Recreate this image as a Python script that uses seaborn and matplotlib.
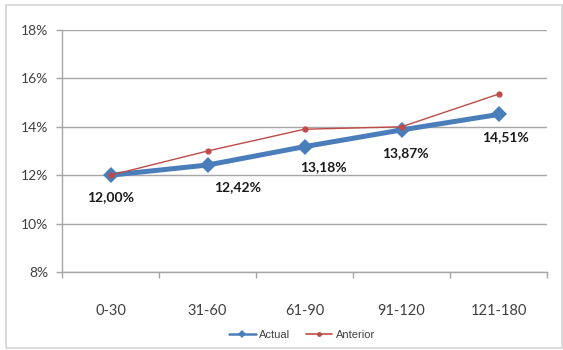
import matplotlib
matplotlib.use("Agg")
import matplotlib.pyplot as plt
from matplotlib.lines import Line2D
from matplotlib.patches import Rectangle
from matplotlib.ticker import FuncFormatter
import pandas as pd
import seaborn as sns

# Tramos de plazo (días) y tasas por serie
categories = ["0-30", "31-60", "61-90", "91-120", "121-180"]
actual = [12.00, 12.42, 13.18, 13.87, 14.51]
anterior = [12.00, 13.00, 13.90, 14.00, 15.35]
y_ticks = [8, 10, 12, 14, 16, 18]

df = pd.DataFrame({
    "tramo": categories * 2,
    "tasa": actual + anterior,
    "serie": ["Actual"] * len(categories) + ["Anterior"] * len(categories),
})
df["tramo"] = pd.Categorical(df["tramo"], categories=categories, ordered=True)
df["pos"] = df["tramo"].cat.codes

sns.set_theme(style="white")
plt.rcParams["font.family"] = ["Lato", "DejaVu Sans"]

BLUE = "#4a7ebb"
RED = "#be4b48"
GRID = "#a6a6a6"
TEXT = "#404040"

fig = plt.figure(figsize=(5.63, 3.5), dpi=100)
ax = fig.add_axes([62 / 563, 1 - 272 / 350, (547 - 62) / 563, (272 - 30) / 350])

# Marco exterior del gráfico
fig.patches.append(Rectangle((6 / 563, 2 / 350), 556 / 563, 343 / 350,
                             transform=fig.transFigure, fill=False,
                             edgecolor="#d4d4d4", linewidth=1.2))

sns.lineplot(data=df[df["serie"] == "Actual"], x="pos", y="tasa", ax=ax,
             color=BLUE, linewidth=3.6, marker="D", markersize=8.5,
             markeredgewidth=0, legend=False, zorder=3)
sns.lineplot(data=df[df["serie"] == "Anterior"], x="pos", y="tasa", ax=ax,
             color=RED, linewidth=1.0, marker="o", markersize=4.5,
             markeredgewidth=0, legend=False, zorder=4)

# Etiquetas de valor de la serie actual
label_offsets = [(0, -22), (30, -22), (19, -20), (4, -23), (7, -23)]
for i, (v, (dx, dy)) in enumerate(zip(actual, label_offsets)):
    ax.annotate(f"{v:.2f}%".replace(".", ","), (i, v), xytext=(dx, dy),
                textcoords="offset pixels", ha="center", va="center",
                fontsize=10, fontweight="bold", color="#1a1a1a")

ax.set_xlim(-0.5, len(categories) - 0.5)
ax.set_ylim(y_ticks[0], y_ticks[-1])
ax.set_yticks(y_ticks)
ax.yaxis.set_major_formatter(FuncFormatter(lambda v, _: f"{v:.0f}%"))
ax.set_xticks(range(len(categories)))
ax.set_xticklabels(categories)
ax.set_xticks([i - 0.5 for i in range(len(categories) + 1)], minor=True)
ax.set_xlabel("")
ax.set_ylabel("")

ax.grid(axis="y", color=GRID, linewidth=1.0)
ax.set_axisbelow(True)
for side in ("top", "right"):
    ax.spines[side].set_visible(False)
for side in ("left", "bottom"):
    ax.spines[side].set_color(GRID)
    ax.spines[side].set_linewidth(1.0)

ax.tick_params(axis="y", which="major", left=True, length=4, width=1,
               color=GRID, labelsize=10, labelcolor=TEXT, pad=6)
ax.tick_params(axis="x", which="major", bottom=False, labelsize=10.5,
               labelcolor=TEXT, pad=17)
ax.tick_params(axis="x", which="minor", bottom=True, length=4, width=1,
               color=GRID)

# Leyenda inferior con muestras finas
handles = [
    Line2D([], [], color=BLUE, linewidth=1.8, marker="D", markersize=4.5,
           markeredgewidth=0),
    Line2D([], [], color=RED, linewidth=1.2, marker="o", markersize=3.5,
           markeredgewidth=0),
]
fig.legend(handles, ["Actual", "Anterior"], loc="center",
           bbox_to_anchor=(302 / 563, 1 - 335 / 350), ncol=2, frameon=False,
           prop={"family": ["Liberation Sans"], "size": 8}, labelcolor=TEXT,
           handlelength=2.4, columnspacing=1.4, handletextpad=0.3)

fig.savefig("out.png", dpi=100)
